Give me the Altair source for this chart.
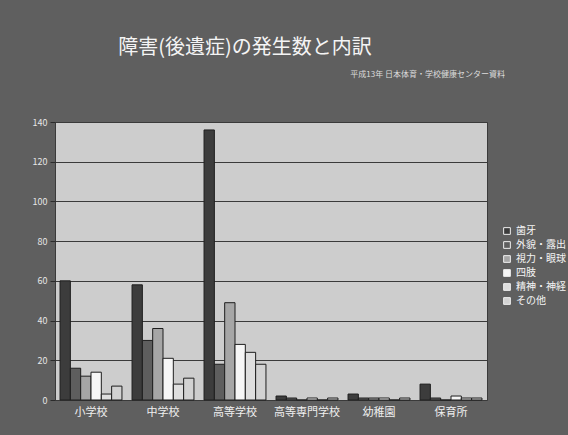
import altair as alt
import pandas as pd

# 学校種別ごとの障害(後遺症)発生件数
schools = ["小学校", "中学校", "高等学校", "高等専門学校", "幼稚園", "保育所"]
types = ["歯牙", "外貌・露出", "視力・眼球", "四肢", "精神・神経", "その他"]

shiga = [60, 58, 136, 2, 3, 8]
gaibou = [16, 30, 18, 1, 1, 1]
shiryoku = [12, 36, 49, 0, 1, 0]
shishi = [14, 21, 28, 1, 1, 2]
seishin = [3, 8, 24, 0, 0, 1]
sonota = [7, 11, 18, 1, 1, 1]

y_ticks = [0, 20, 40, 60, 80, 100, 120, 140]

title_text = "障害(後遺症)の発生数と内訳"
source_text = "平成13年 日本体育・学校健康センター資料"

series = [shiga, gaibou, shiryoku, shishi, seishin, sonota]
rows = []
for t, vals in zip(types, series):
    for s, v in zip(schools, vals):
        rows.append({"school": s, "type": t, "count": v})
df = pd.DataFrame(rows)

fills = ["#3c3c3c", "#5e5e5e", "#a6a6a6", "#f6f6f6", "#dedede", "#d2d2d2"]
FONT = "Noto Sans CJK JP"

bars = alt.Chart(df).mark_bar(stroke="#1e1e1e", strokeWidth=1).encode(
    x=alt.X("school:N", sort=schools, title=None,
            scale=alt.Scale(paddingInner=0.14, paddingOuter=0.07),
            axis=alt.Axis(labelAngle=0, labelColor="#f0f0f0", labelFontSize=11,
                          labelFont=FONT, domain=False, ticks=False, labelPadding=6)),
    xOffset=alt.XOffset("type:N", sort=types),
    y=alt.Y("count:Q", title=None,
            scale=alt.Scale(domain=[0, 140], nice=False),
            axis=alt.Axis(values=y_ticks, labelColor="#e6e6e6", labelFontSize=9,
                          labelFont=FONT, domain=False, tickColor="#2a2a2a",
                          tickSize=5, gridColor="#3a3a3a", gridWidth=1, labelPadding=3)),
    color=alt.Color("type:N", sort=types, title=None,
                    scale=alt.Scale(domain=types, range=fills),
                    legend=alt.Legend(orient="none", legendX=447, legendY=104,
                                      labelColor="#f4f4f4", labelFontSize=10,
                                      labelFont=FONT, symbolType="square",
                                      symbolSize=45, symbolStrokeColor="#f0f0f0",
                                      symbolStrokeWidth=1, rowPadding=2)),
)

title = alt.Chart(pd.DataFrame({"t": [title_text]})).mark_text(
    font=FONT, fontSize=20, color="#f4f4f4", align="center", baseline="middle"
).encode(x=alt.value(190), y=alt.value(-74), text="t:N")

source = alt.Chart(pd.DataFrame({"t": [source_text]})).mark_text(
    font=FONT, fontSize=8, color="#dcdcdc", align="right", baseline="middle"
).encode(x=alt.value(450), y=alt.value(-47), text="t:N")

chart = alt.layer(bars, title, source).properties(
    width=432, height=278,
    background="#5f5f5f",
    padding={"left": 55, "top": 122, "right": 81, "bottom": 35},
    autosize=alt.AutoSizeParams(type="none"),
).configure_view(
    fill="#cdcdcd", stroke="#3a3a3a"
)

chart.save("out.html", embed_options={"renderer": "svg", "actions": False})
